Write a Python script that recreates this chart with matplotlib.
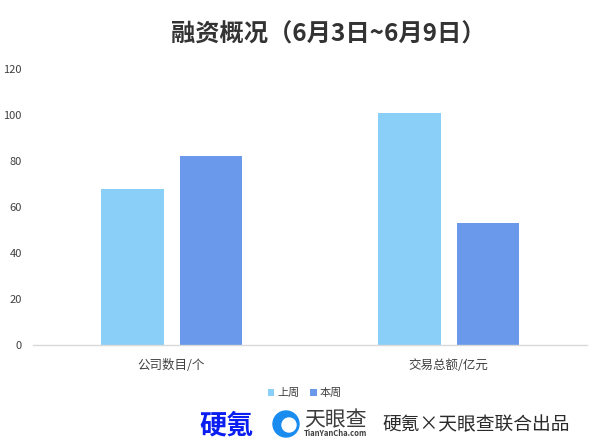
import matplotlib
matplotlib.use("Agg")
import matplotlib.pyplot as plt
import numpy as np
from matplotlib.patches import Ellipse

plt.rcParams['font.family'] = ['Noto Sans CJK SC', 'DejaVu Sans']

categories = ['公司数目/个', '交易总额/亿元']
series_names = ['上周', '本周']
last_week = [68, 101]
this_week = [82, 53]
colors = ['#89CFF8', '#6A98EA']
yticks = [0, 20, 40, 60, 80, 100, 120]
title = '融资概况（6月3日~6月9日）'

W, H = 605, 445
fig = plt.figure(figsize=(W/100, H/100), dpi=100)
ax = fig.add_axes([33/W, 1-345/H, (587-33)/W, (345-69)/H])

x = np.arange(len(categories))
w = 0.224
gap = 16/277
ax.bar(x - (w+gap)/2, last_week, w, color=colors[0], label=series_names[0])
ax.bar(x + (w+gap)/2, this_week, w, color=colors[1], label=series_names[1])

ax.set_xlim(-0.5, 1.5)
ax.set_ylim(0, 120)
ax.set_yticks(yticks)
ax.set_yticklabels([str(v) for v in yticks], fontsize=8, color='#404040')
ax.set_xticks(x)
ax.set_xticklabels(categories, fontsize=9, color='#404040')
ax.tick_params(axis='both', length=0)
ax.tick_params(axis='y', pad=8)
ax.tick_params(axis='x', pad=10)
for s in ['top', 'right', 'left']:
    ax.spines[s].set_visible(False)
ax.spines['bottom'].set_color('#d9d9d9')
ax.spines['bottom'].set_linewidth(1)

fig.text(328/W, 1-35/H, title, ha='center', va='center', fontsize=17.5,
         fontweight='bold', color='#333333')

leg = fig.legend(loc='center', bbox_to_anchor=(305/W, 1-393/H), ncol=2,
                 frameon=False, fontsize=8, handlelength=0.6, handleheight=0.6,
                 handletextpad=0.3, columnspacing=0.9)
for t in leg.get_texts():
    t.set_color('#404040')

# footer
fig.text(226/W, 1-425/H, '硬氪', ha='center', va='center', fontsize=19.5,
         fontweight='bold', color='#0B1EF2')
circ = Ellipse((286/W, 1-424/H), 26/W, 26/H, transform=fig.transFigure,
               color='#1A8CF0', zorder=5)
fig.patches.append(circ)
inner = Ellipse((289/W, 1-425/H), 14/W, 14/H, transform=fig.transFigure,
                color='white', zorder=6)
fig.patches.append(inner)
fig.text(335/W, 1-420/H, '天眼查', ha='center', va='center', fontsize=15,
         color='#3c3c3c')
fig.text(335/W, 1-434/H, 'TianYanCha.com', ha='center', va='center',
         fontsize=5.5, fontweight='bold', color='#3c3c3c')
fig.text(476/W, 1-425/H, '硬氪×天眼查联合出品', ha='center', va='center',
         fontsize=13.5, color='#2a2a2a')

fig.savefig('out.png', dpi=100)
